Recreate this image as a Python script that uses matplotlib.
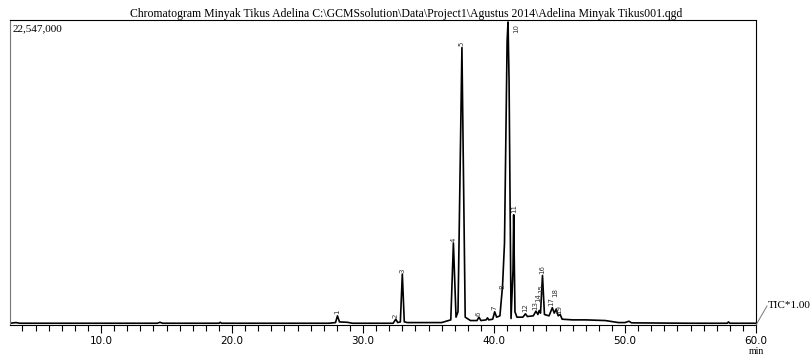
import matplotlib
matplotlib.use("Agg")
import matplotlib.pyplot as plt
from matplotlib.ticker import MultipleLocator, FixedLocator

# Trace (time in min, intensity in millions of counts)
trace_t = [3.05, 3.5, 3.8, 14.3, 14.5, 14.7, 19.0, 19.1, 19.2, 27.4, 27.9, 28.05, 28.2, 28.8, 29.2,
           32.3, 32.5, 32.65, 32.85, 33.0, 33.15, 33.4, 36.0, 36.7, 36.9, 37.1, 37.25, 37.55, 37.8,
           38.2, 38.7, 38.85, 39.0, 39.4, 39.5, 39.6, 39.9, 40.05, 40.2, 40.45, 40.65, 40.8, 41.0,
           41.07, 41.15, 41.3, 41.45, 41.5, 41.6, 41.75, 42.2, 42.4, 42.55, 43.0, 43.2, 43.35, 43.45,
           43.55, 43.7, 43.85, 44.2, 44.45, 44.6, 44.75, 44.9, 45.05, 45.2, 46.0, 47.0, 48.5, 49.5,
           50.0, 50.3, 50.5, 55.0, 57.8, 57.9, 58.0, 60.0]
trace_i = [0.05, 0.1, 0.05, 0.05, 0.12, 0.05, 0.05, 0.12, 0.05, 0.05, 0.1, 0.6, 0.15, 0.12, 0.05,
           0.05, 0.35, 0.1, 0.15, 3.7, 0.15, 0.1, 0.1, 0.3, 6.0, 0.5, 0.9, 20.5, 0.5,
           0.25, 0.25, 0.5, 0.25, 0.3, 0.45, 0.3, 0.35, 0.9, 0.5, 0.6, 2.8, 6.0, 21.0,
           22.4, 18.0, 0.4, 4.0, 8.1, 0.9, 0.5, 0.5, 0.75, 0.55, 0.6, 0.95, 0.7, 1.0,
           0.8, 3.6, 0.7, 0.6, 1.2, 0.8, 1.1, 0.6, 0.7, 0.35, 0.3, 0.3, 0.25, 0.1,
           0.1, 0.2, 0.08, 0.05, 0.05, 0.15, 0.05, 0.05]

# Peak labels (number, time, label base height in millions)
peak_no = ["1", "2", "3", "4", "5", "6", "7", "8", "10", "11", "12", "13", "14", "15", "16", "17", "18", "19"]
peak_t = [28.05, 32.5, 33.0, 36.9, 37.55, 38.85, 40.05, 40.65, 41.7, 41.55, 42.4, 43.15, 43.4, 43.6, 43.7, 44.4, 44.65, 44.95]
peak_y = [0.7, 0.45, 3.8, 6.1, 20.6, 0.6, 1.0, 2.6, 21.6, 8.2, 0.85, 1.0, 1.65, 2.3, 3.7, 1.3, 2.0, 0.7]

x_ticks = [10, 20, 30, 40, 50, 60]
x_labels = ["10.0", "20.0", "30.0", "40.0", "50.0", "60.0"]
y_max = 22.547
title = r"Chromatogram Minyak Tikus Adelina C:\GCMSsolution\Data\Project1\Agustus 2014\Adelina Minyak Tikus001.qgd"

fig = plt.figure(figsize=(8.12, 3.58), dpi=100)
ax = fig.add_axes([10/812, 1-325/358, (756-10)/812, (325-20)/358])
ax.plot(trace_t, trace_i, color="black", lw=1.2)
ax.set_xlim(3.05, 60)
ax.set_ylim(-0.08, y_max)
ax.set_yticks([])
ax.xaxis.set_major_locator(FixedLocator(x_ticks))
ax.set_xticklabels(x_labels, fontsize=7.5, family="DejaVu Sans")
ax.xaxis.set_minor_locator(MultipleLocator(1))
ax.tick_params(axis="x", which="major", length=6, width=0.8, direction="out", pad=2)
ax.tick_params(axis="x", which="minor", length=4, width=0.8, direction="out")
for s in ax.spines.values():
    s.set_linewidth(0.8)
ax.spines["left"].set_color("#777777")

for n, t, y in zip(peak_no, peak_t, peak_y):
    ax.text(t, y, n, rotation=90, ha="center", va="bottom", fontsize=5,
            color="#333333", family="DejaVu Sans", clip_on=False)

ax.text(0.004, 0.985, "22,547,000", transform=ax.transAxes, ha="left", va="top",
        fontsize=8, family="Liberation Serif")
fig.text(0.5, 1 - 17.5/358, title, ha="center", va="baseline", fontsize=8.5, family="Liberation Serif")
fig.text(756/812, 1-352/358, "min", ha="center", va="center", fontsize=7, family="Liberation Serif")
fig.text(768/812, 1-305/358, "TIC*1.00", ha="left", va="center", fontsize=8, family="Liberation Serif")
fig.add_artist(plt.Line2D([756/812, 767/812], [1-325/358, 1-306/358], color="#777777", lw=0.7))

fig.savefig("out.png", dpi=100)
